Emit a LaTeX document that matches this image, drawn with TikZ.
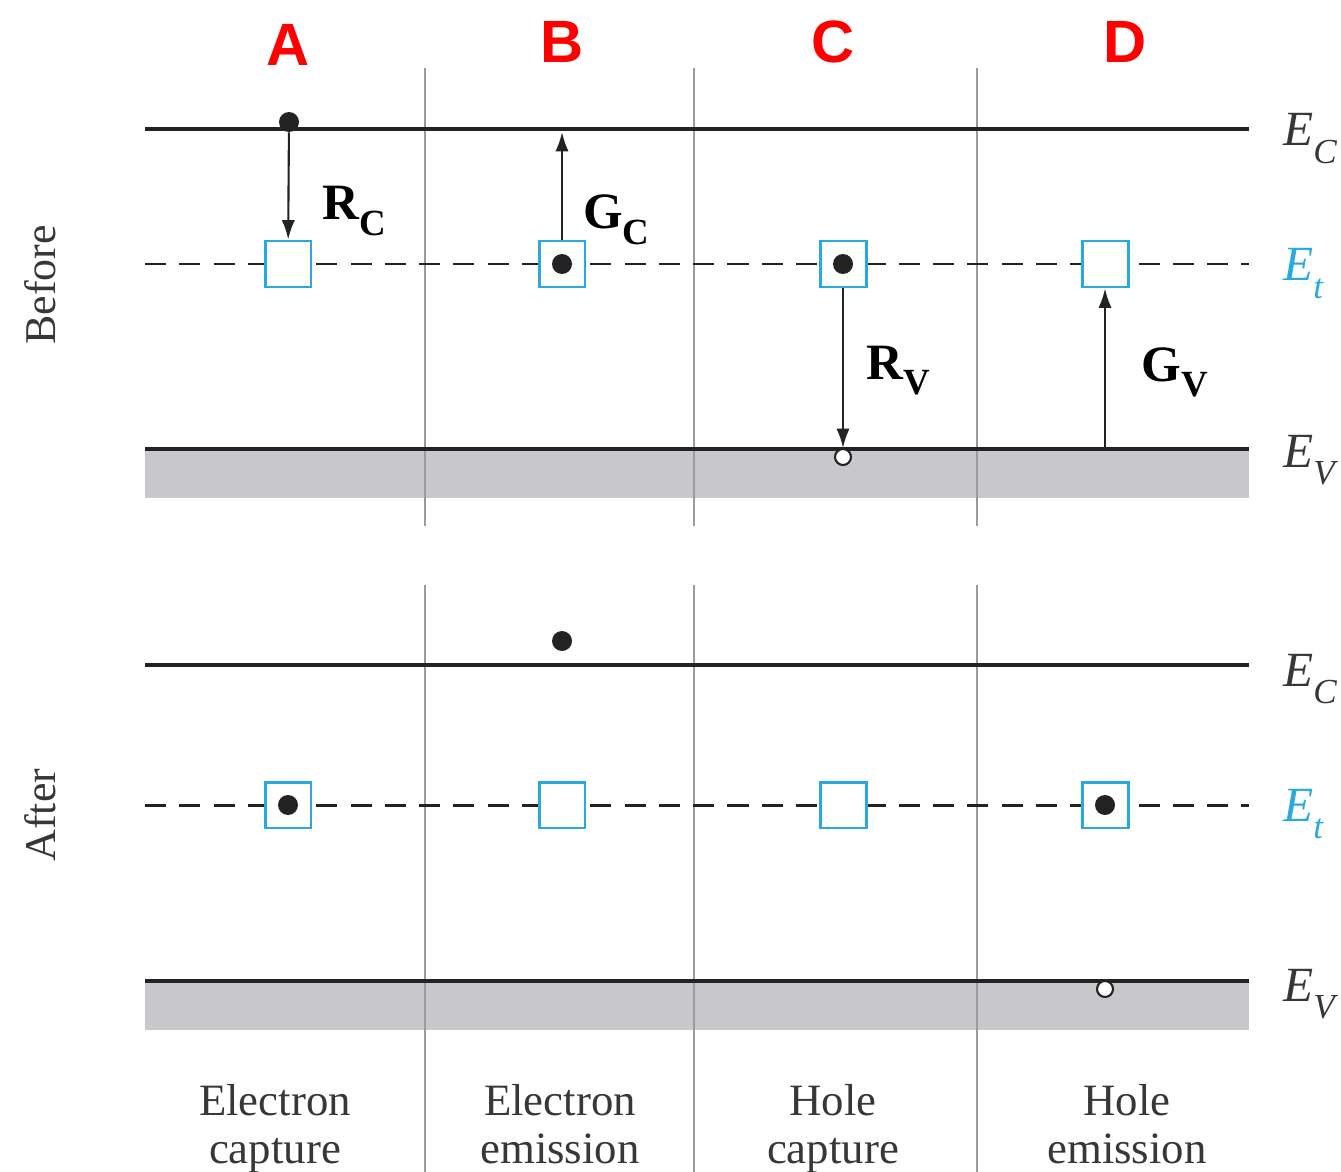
\documentclass[tikz,border=0pt]{standalone}
\usepackage{amsmath}
\usepackage{fontspec}
\setmainfont{Liberation Serif}
\newfontfamily\casefont{Liberation Sans}
\usetikzlibrary{arrows.meta,positioning}
\definecolor{trapblue}{RGB}{40,170,225}
\definecolor{bandgray}{RGB}{200,200,204}
\definecolor{levelgray}{RGB}{35,35,35}
\definecolor{divgray}{RGB}{155,155,155}
\definecolor{textgray}{RGB}{55,55,55}
\newcommand{\Elev}[1]{\textit{E}\raisebox{-0.35em}{\fontsize{20}{20}\selectfont\textit{#1}}}
\newcommand{\Rate}[2]{\textbf{#1}\raisebox{-0.3em}{\fontsize{21}{21}\selectfont\textbf{#2}}}

\begin{document}
\begin{tikzpicture}[x=0.02cm, y=-0.02cm, >={Latex[length=11pt,width=7.5pt]},
  level/.style={line width=2.8pt, levelgray},
  trapline/.style={line width=1.7pt, levelgray, dash pattern=on 12pt off 7.5pt},
  divider/.style={line width=0.9pt, divgray},
  trap/.style={draw=trapblue, fill=white, line width=1.7pt, minimum size=0.92cm, inner sep=0pt},
  edot/.style={circle, fill=levelgray, minimum size=0.4cm, inner sep=0pt},
  hdot/.style={circle, draw=levelgray, fill=white, line width=1.2pt, minimum size=0.32cm, inner sep=0pt},
  transition/.style={line width=1.2pt, levelgray},
  ratelbl/.style={font=\fontsize{29}{30}\selectfont, anchor=base west, inner sep=0pt},
  elbl/.style={font=\fontsize{28}{30}\selectfont, textgray, anchor=base west, inner sep=0pt},
  caselbl/.style={font=\casefont\bfseries\fontsize{34}{36}\selectfont, red},
  sidelbl/.style={font=\fontsize{25}{26}\selectfont, textgray, rotate=90},
  processlbl/.style={font=\fontsize{25.5}{27.5}\selectfont, textgray, align=center, anchor=north, inner sep=0pt}]
\useasboundingbox (0,0) rectangle (1341,1172);

% column letters
\node[caselbl] (A) at (288,45) {A};
\node[caselbl] (B) at (562,42) {B};
\node[caselbl] (C) at (833,42) {C};
\node[caselbl] (D) at (1125,42) {D};

% before
\fill[bandgray] (145,449) rectangle (1249,498);
\foreach \x in {425,694,977}
  \draw[divider] (\x,68) -- (\x,526);
\draw[level] (145,129) -- (1249,129);
\draw[trapline] (145,264) -- (1249,264);
\draw[level] (145,449) -- (1249,449);

\node[trap] (tA) at (288,264) {};
\node[trap] (tB) at (562,264) {};
\node[trap] (tC) at (843,264) {};
\node[trap] (tD) at (1105,264) {};
\node[edot] (eA) at (289,122) {};
\node[edot] (eB) at (tB) {};
\node[edot] (eC) at (tC) {};
\node[hdot] (hC) at (843,457) {};
\coordinate (cB) at (562,132);
\coordinate (vD) at (1105,447);

\draw[->, transition] (eA) -- (tA);
\draw[->, transition] (tB) -- (cB);
\draw[->, transition] (tC) -- (hC);
\draw[->, transition] (vD) -- (tD);

\node[ratelbl] (rc) at (322,220) {\Rate{R}{C}};
\node[ratelbl] (gc) at (583,229) {\Rate{G}{C}};
\node[ratelbl] (rv) at (866,379) {\Rate{R}{V}};
\node[ratelbl] (gv) at (1141,381) {\Rate{G}{V}};

\node[elbl] (ecB) at (1283,146) {\Elev{C}};
\node[elbl, trapblue] (etB) at (1283,281) {\Elev{t}};
\node[elbl] (evB) at (1283,467) {\Elev{V}};
\node[sidelbl] (before) at (40,285) {Before};

% after
\fill[bandgray] (145,981) rectangle (1249,1030);
\foreach \x in {425,694,977}
  \draw[divider] (\x,585) -- (\x,1172);
\draw[level] (145,665) -- (1249,665);
\draw[trapline] (145,805) -- (1249,805);
\draw[level] (145,981) -- (1249,981);

\node[trap] (uA) at (288,805) {};
\node[trap] (uB) at (562,805) {};
\node[trap] (uC) at (843,805) {};
\node[trap] (uD) at (1105,805) {};
\node[edot] (fA) at (uA) {};
\node[edot] (fB) at (562,641) {};
\node[edot] (fD) at (uD) {};
\node[hdot] (hD) at (1105,989) {};

\node[elbl] (ecA) at (1283,686) {\Elev{C}};
\node[elbl, trapblue] (etA) at (1283,821) {\Elev{t}};
\node[elbl] (evA) at (1283,1001) {\Elev{V}};
\node[sidelbl] (after) at (40,815) {After};

% process names
\node[processlbl] (pA) at (275,1084) {Electron\\capture};
\node[processlbl] (pB) at (560,1084) {Electron\\emission};
\node[processlbl] (pC) at (833,1084) {Hole\\capture};
\node[processlbl] (pD) at (1127,1084) {Hole\\emission};
\end{tikzpicture}
\end{document}
